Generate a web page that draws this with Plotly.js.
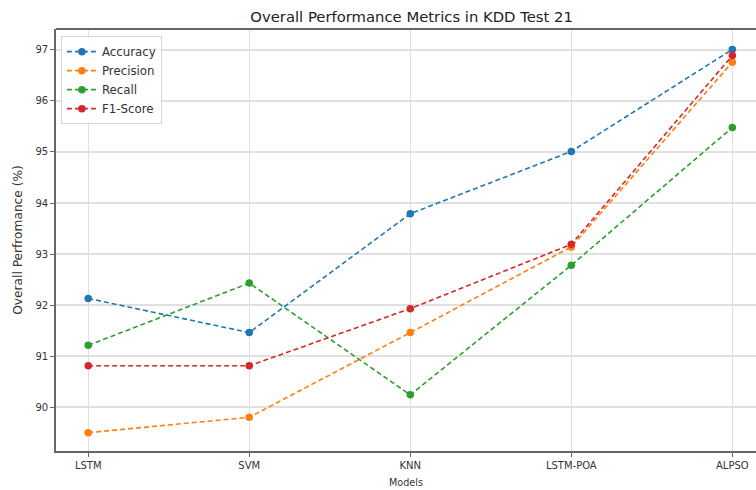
<!DOCTYPE html>
<html>
<head>
<meta charset="utf-8">
<script src="https://cdn.plot.ly/plotly-3.0.1.min.js"></script>
<style>html,body{margin:0;padding:0;background:#fff;}#chart{width:756px;height:490px;}</style>
</head>
<body>
<div id="chart"></div>
<script>
const models = ["LSTM", "SVM", "KNN", "LSTM-POA", "ALPSO"];
const accuracy = [92.13, 91.46, 93.79, 95.01, 97.01];
const precision = [89.50, 89.80, 91.46, 93.14, 96.76];
const recall = [91.21, 92.43, 90.24, 92.78, 95.48];
const f1score = [90.81, 90.81, 91.93, 93.19, 96.89];

const seriesNames = ["Accuracy", "Precision", "Recall", "F1-Score"];
const seriesValues = [accuracy, precision, recall, f1score];
const colors = ["#1f77b4", "#ff7f0e", "#2ca02c", "#d62728"];

const idx = models.map((m, i) => i);
const traces = seriesNames.map((name, k) => ({
  type: "scatter",
  mode: "lines+markers",
  name: name,
  x: idx,
  y: seriesValues[k],
  line: {color: colors[k], width: 1.6, dash: "5px,3px"},
  marker: {color: colors[k], size: 7.5, symbol: "circle"},
  cliponaxis: false
}));

const font = "DejaVu Sans, sans-serif";
const layout = {
  width: 756, height: 490,
  margin: {l: 56, r: 0, t: 29, b: 39, pad: 0},
  paper_bgcolor: "#fff", plot_bgcolor: "#fff",
  font: {family: font, size: 10, color: "#333"},
  title: {text: "Overall Performance Metrics in KDD Test 21", font: {family: font, size: 14.8, color: "#222"},
          x: 0.508, xanchor: "center", xref: "paper", y: 1 - 17/490, yanchor: "middle"},
  showlegend: true,
  legend: {x: 0.007, y: 0.983, xanchor: "left", yanchor: "top",
           bgcolor: "rgba(255,255,255,0.85)", bordercolor: "#d6d6d6", borderwidth: 1,
           font: {family: font, size: 11.8, color: "#333"}, tracegroupgap: 0, itemwidth: 30},
  shapes: [{type: "line", xref: "paper", yref: "paper", x0: 0, x1: 1, y0: 1, y1: 1,
            line: {color: "#666", width: 1.8}}],
  xaxis: {
    range: [-0.2, 4.147], tickmode: "array", tickvals: idx, ticktext: models,
    showgrid: true, gridcolor: "#e0e0e0", gridwidth: 1.3, zeroline: false,
    showline: true, linecolor: "#666", linewidth: 1.8, mirror: false,
    ticks: "outside", ticklen: 4, tickcolor: "#666", tickwidth: 1,
    tickfont: {family: font, size: 10, color: "#333"},
    title: {text: "Models", font: {family: font, size: 9.6, color: "#333"}, standoff: 9}
  },
  yaxis: {
    range: [89.14, 97.41], tickmode: "array", tickvals: [90, 91, 92, 93, 94, 95, 96, 97],
    showgrid: true, gridcolor: "#e0e0e0", gridwidth: 1.3, zeroline: false,
    showline: true, linecolor: "#666", linewidth: 1.8, mirror: false,
    ticks: "outside", ticklen: 4, tickcolor: "#666", tickwidth: 1,
    tickfont: {family: font, size: 10, color: "#333"},
    title: {text: "Overall Perfromance (%)", font: {family: font, size: 12.2, color: "#333"}, standoff: 10}
  }
};

Plotly.newPlot("chart", traces, layout, {displayModeBar: false, staticPlot: true});
</script>
</body>
</html>
